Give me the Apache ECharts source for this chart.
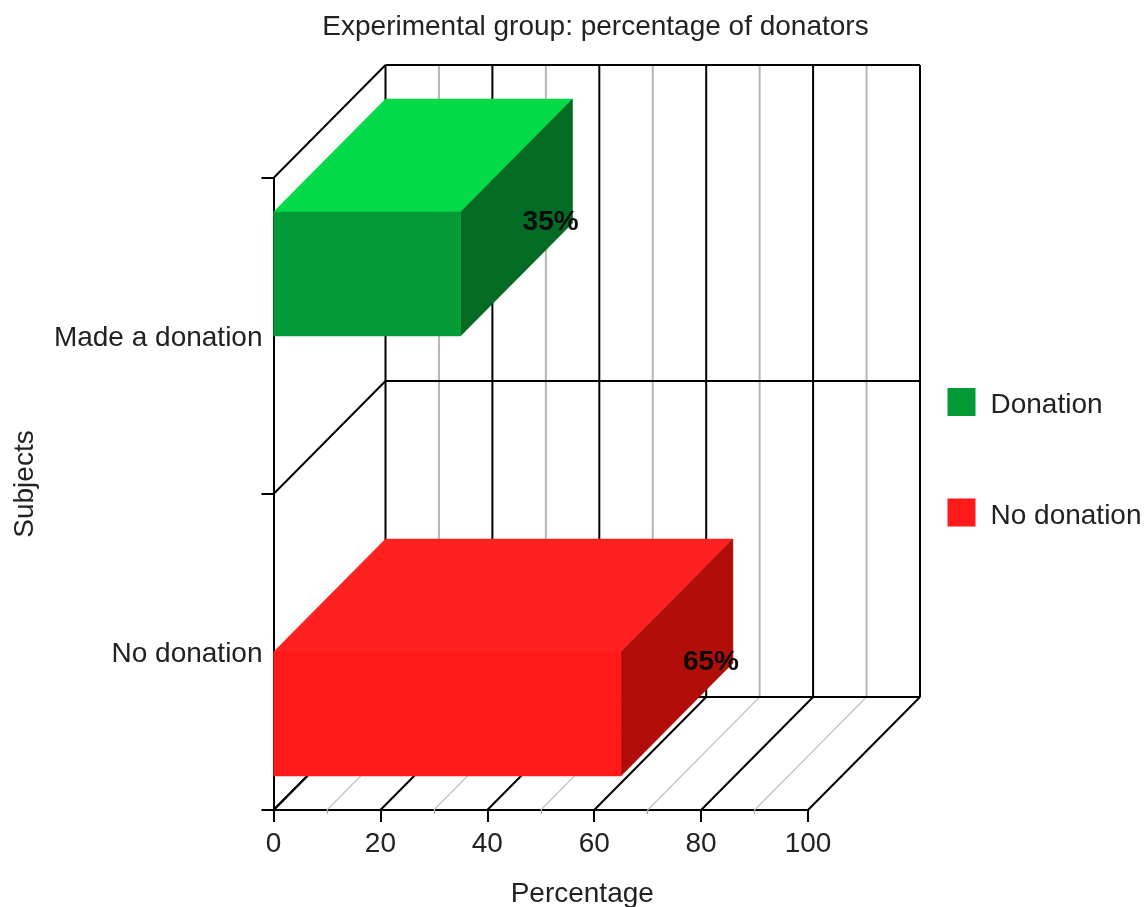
<!DOCTYPE html>
<html>
<head>
<meta charset="utf-8">
<style>html,body{margin:0;padding:0;background:#fff}#c{width:1146px;height:907px}</style>
<script src="https://cdn.jsdelivr.net/npm/echarts@6/dist/echarts.min.js"></script>
</head>
<body>
<div id="c"></div>
<script>
const categories = ['Made a donation', 'No donation'];
const donationValues = [35];
const noDonationValues = [65];
const majorTicks = [0, 20, 40, 60, 80, 100];
const minorTicks = [10, 30, 50, 70, 90];
const titleText = 'Experimental group: percentage of donators';
const FONT = '"Liberation Sans", Arial, sans-serif';
const TEXT = '#222';
const FS = 28;
const DX = 112, DY = -113;
const BAR_H = 124;
const BAR_SHIFT = [-124, 0];
const LINE_W = 2;
const faces = {
  green: { front: '#049a36', top: '#03da48', side: '#046b24' },
  red: { front: '#ff1a1a', top: '#ff2020', side: '#b10e0a' }
};

function seg(x1, y1, x2, y2, stroke, w) {
  return { type: 'line', shape: { x1, y1, x2, y2 }, style: { stroke, lineWidth: w, fill: null } };
}

function renderFrame(params, api) {
  const items = [];
  const band = api.size([0, 1])[1];
  const yBottom = api.coord([0, categories.length - 1])[1] + band / 2;
  const yTop = api.coord([0, 0])[1] - band / 2;
  minorTicks.forEach(t => {
    const x = api.coord([t, 0])[0];
    items.push(seg(x + DX, yTop + DY, x + DX, yBottom + DY, '#b5b5b5', LINE_W));
    items.push(seg(x, yBottom, x + DX, yBottom + DY, '#c4c4c4', 1.2));
  });
  majorTicks.forEach(t => {
    const x = api.coord([t, 0])[0];
    items.push(seg(x + DX, yTop + DY, x + DX, yBottom + DY, '#000', LINE_W));
    items.push(seg(x, yBottom, x + DX, yBottom + DY, '#000', LINE_W));
  });
  const xl = api.coord([0, 0])[0], xr = api.coord([100, 0])[0];
  for (let i = 0; i <= categories.length; i++) {
    const y = yTop + band * i;
    items.push(seg(xl + DX, y + DY, xr + DX, y + DY, '#000', LINE_W));
    items.push(seg(xl, y, xl + DX, y + DY, '#000', LINE_W));
  }
  return { type: 'group', children: items };
}

function renderBar(colors) {
  return function (params, api) {
    const cat = api.value(1);
    const c0 = api.coord([0, cat]);
    const c1 = api.coord([api.value(0), cat]);
    const xl = c0[0], xr = c1[0];
    const yt = c0[1] + BAR_SHIFT[cat], yb = yt + BAR_H;
    const poly = (points, fill) => ({ type: 'polygon', shape: { points }, style: { fill, stroke: fill, lineWidth: 0.5 } });
    return {
      type: 'group',
      children: [
        poly([[xl, yt], [xr, yt], [xr + DX, yt + DY], [xl + DX, yt + DY]], colors.top),
        poly([[xr, yt], [xr + DX, yt + DY], [xr + DX, yb + DY], [xr, yb]], colors.side),
        poly([[xl, yt], [xr, yt], [xr, yb], [xl, yb]], colors.front),
        {
          type: 'text',
          style: {
            text: api.value(0) + '%',
            x: xr + 90, y: (yt + yb) / 2 - 52,
            textAlign: 'center', textVerticalAlign: 'middle',
            font: 'bold ' + FS + 'px ' + FONT, fill: '#0a0a0a'
          }
        }
      ]
    };
  };
}

const chart = echarts.init(document.getElementById('c'), null, { renderer: 'canvas' });
chart.setOption({
  animation: false,
  backgroundColor: '#fff',
  title: {
    text: titleText, left: 590.5, top: 8, textAlign: 'center',
    textStyle: { fontFamily: FONT, fontSize: FS, fontWeight: 'normal', color: TEXT }
  },
  legend: {
    orient: 'vertical', left: 947.5, top: 388, padding: 0, itemWidth: 28, itemHeight: 28, itemGap: 79,
    icon: 'rect', data: ['Donation', 'No donation'], selectedMode: false,
    formatter: name => '{a|' + name + '}',
    textStyle: {
      fontFamily: FONT, fontSize: FS, color: TEXT,
      rich: { a: { fontFamily: FONT, fontSize: FS, color: TEXT, padding: [7, 0, 0, 10] } }
    }
  },
  grid: { left: 273.5, top: 178, width: 534.5, height: 632, containLabel: false, outerBoundsMode: 'none' },
  xAxis: {
    type: 'value', min: 0, max: 100, interval: 20,
    name: 'Percentage', nameLocation: 'middle', nameGap: 70,
    nameTextStyle: { fontFamily: FONT, fontSize: FS, color: TEXT, padding: [0, 0, 0, 83] },
    axisLine: { show: true, lineStyle: { color: '#000', width: LINE_W } },
    axisTick: { show: true, length: 12, lineStyle: { color: '#000', width: LINE_W } },
    minorTick: { show: true, splitNumber: 2, length: 4, lineStyle: { color: '#aaa', width: 1.2 } },
    axisLabel: { margin: 20, fontFamily: FONT, fontSize: FS, color: TEXT, customValues: majorTicks },
    splitLine: { show: false }
  },
  yAxis: {
    type: 'category', data: categories, inverse: true,
    name: 'Subjects', nameLocation: 'middle', nameGap: 234,
    nameTextStyle: { fontFamily: FONT, fontSize: FS, color: TEXT, padding: [0, 0, 0, 20] },
    axisLine: { show: true, lineStyle: { color: '#000', width: LINE_W } },
    axisTick: { show: true, length: 12, alignWithLabel: false, lineStyle: { color: '#000', width: LINE_W } },
    axisLabel: {
      margin: 11, formatter: name => '{a|' + name + '}',
      rich: { a: { fontFamily: FONT, fontSize: FS, color: TEXT, padding: [4, 0, 0, 0] } }
    },
    splitLine: { show: false }
  },
  series: [
    {
      type: 'custom', name: 'frame', coordinateSystem: 'cartesian2d', silent: true, z: 1, clip: false,
      data: [[0, 0]], encode: { x: 0, y: 1 }, renderItem: renderFrame
    },
    {
      type: 'custom', name: 'Donation', coordinateSystem: 'cartesian2d', z: 3, clip: false,
      itemStyle: { color: faces.green.front },
      data: donationValues.map(v => [v, 0]), encode: { x: 0, y: 1 }, renderItem: renderBar(faces.green)
    },
    {
      type: 'custom', name: 'No donation', coordinateSystem: 'cartesian2d', z: 4, clip: false,
      itemStyle: { color: faces.red.front },
      data: noDonationValues.map(v => [v, 1]), encode: { x: 0, y: 1 }, renderItem: renderBar(faces.red)
    }
  ]
});
</script>
</body>
</html>
